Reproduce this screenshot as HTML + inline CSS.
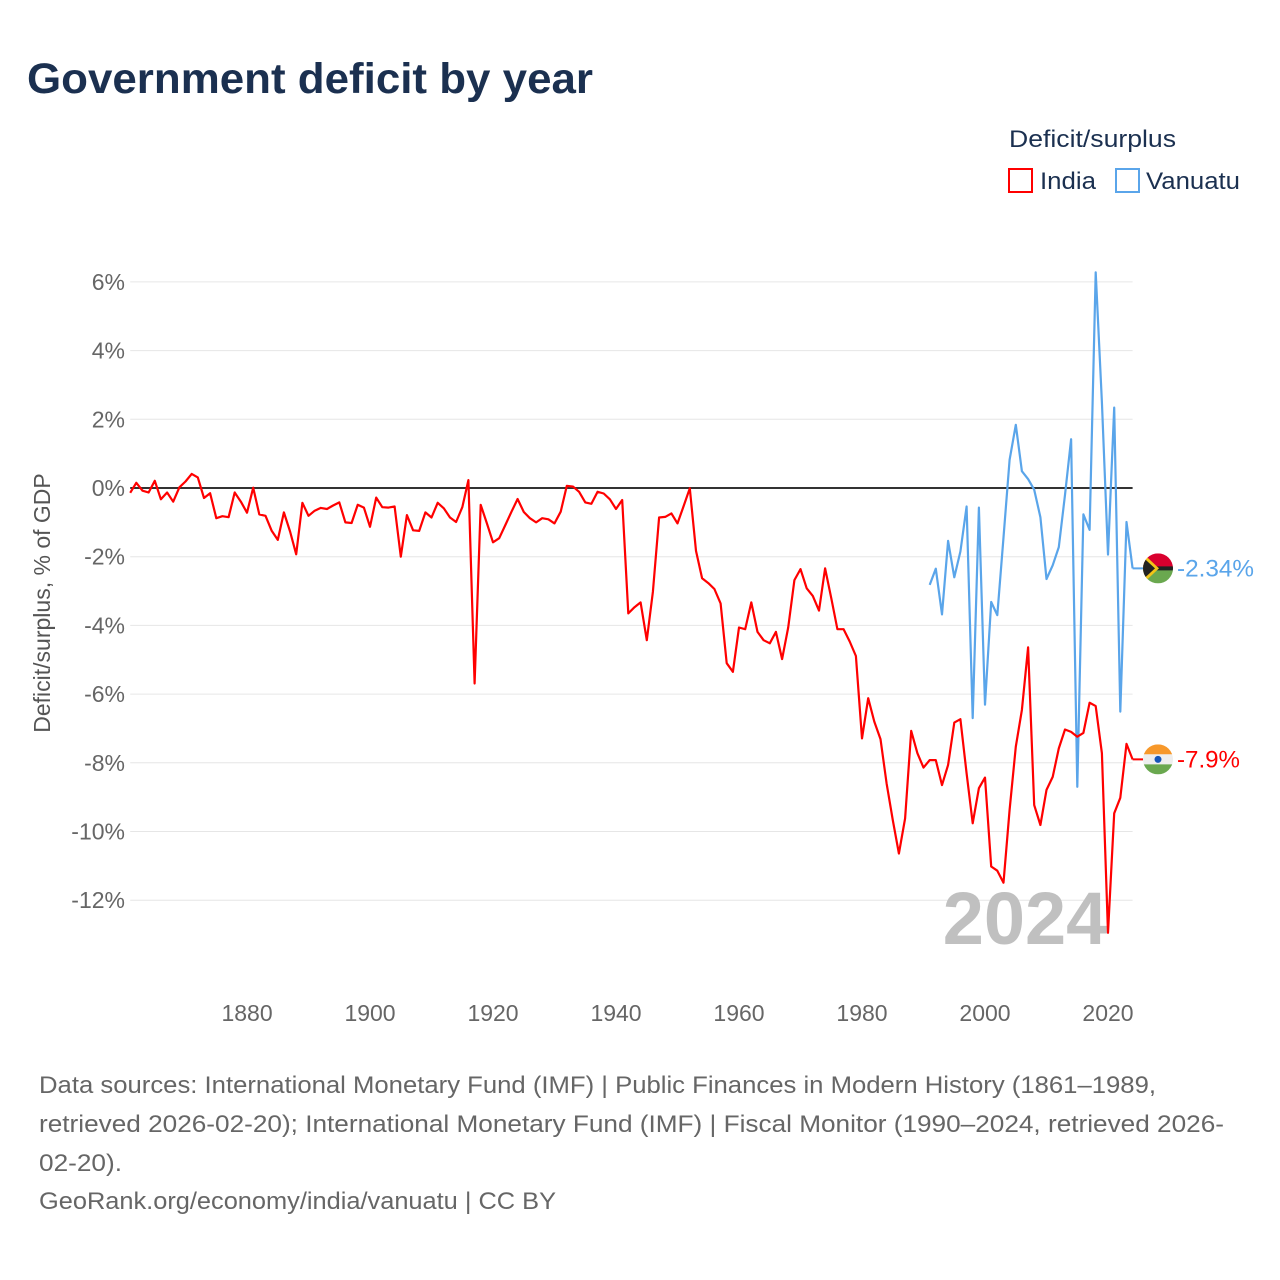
<!DOCTYPE html>
<html><head><meta charset="utf-8"><style>
body{margin:0;background:#fff;width:1280px;height:1280px;overflow:hidden;font-family:"Liberation Sans",sans-serif}
svg{position:absolute;left:0;top:0}
</style></head><body>
<svg id="chart" width="1280" height="1280">
<text x="27" y="93" font-size="43" font-weight="bold" fill="#1b3050" textLength="566" lengthAdjust="spacingAndGlyphs">Government deficit by year</text>
<text x="1009" y="147" font-size="24" fill="#1b3050" textLength="167" lengthAdjust="spacingAndGlyphs">Deficit/surplus</text>
<g><rect x="1009" y="169" width="23" height="23" fill="#fff" stroke="#f00" stroke-width="2"/><text x="1040" y="189" font-size="24" fill="#1b3050" textLength="56" lengthAdjust="spacingAndGlyphs">India</text></g>
<g><rect x="1116" y="169" width="23" height="23" fill="#fff" stroke="#5aa5ea" stroke-width="2"/><text x="1146" y="189" font-size="24" fill="#1b3050" textLength="94" lengthAdjust="spacingAndGlyphs">Vanuatu</text></g>
<g id="grid"></g>
<text x="1025" y="944" font-size="74" font-weight="bold" fill="#c0c0c0" text-anchor="middle">2024</text>
<g id="series"></g>
<text transform="translate(50,603) rotate(-90)" font-size="23" fill="#555" text-anchor="middle">Deficit/surplus, % of GDP</text>
<g font-size="24" fill="#666">
<text x="39" y="1093" textLength="1117" lengthAdjust="spacingAndGlyphs">Data sources: International Monetary Fund (IMF) | Public Finances in Modern History (1861–1989,</text>
<text x="39" y="1132" textLength="1185" lengthAdjust="spacingAndGlyphs">retrieved 2026-02-20); International Monetary Fund (IMF) | Fiscal Monitor (1990–2024, retrieved 2026-</text>
<text x="39" y="1171" textLength="83" lengthAdjust="spacingAndGlyphs">02-20).</text>
<text x="39" y="1209" textLength="517" lengthAdjust="spacingAndGlyphs">GeoRank.org/economy/india/vanuatu | CC BY</text>
</g>
</svg>
<script>
const yTicks=[6,4,2,0,-2,-4,-6,-8,-10,-12];
const xTicks=[1880,1900,1920,1940,1960,1980,2000,2020];
const indiaStart=1861;
const indiaValues=[-0.14,0.15,-0.08,-0.13,0.21,-0.33,-0.13,-0.40,0.02,0.19,0.41,0.31,-0.29,-0.15,-0.88,-0.82,-0.85,-0.13,-0.40,-0.72,0.01,-0.77,-0.81,-1.24,-1.51,-0.71,-1.27,-1.93,-0.43,-0.81,-0.66,-0.58,-0.61,-0.51,-0.42,-1.00,-1.02,-0.49,-0.57,-1.13,-0.28,-0.56,-0.57,-0.54,-2.0,-0.79,-1.23,-1.25,-0.71,-0.86,-0.43,-0.59,-0.86,-0.99,-0.56,0.23,
-5.69,-0.49,-1.03,-1.58,-1.46,-1.08,-0.69,-0.32,-0.70,-0.88,-1.0,-0.88,-0.91,-1.03,-0.69,0.06,0.04,-0.11,-0.42,-0.46,-0.11,-0.16,-0.33,-0.61,-0.35,-3.65,-3.47,-3.33,-4.43,-3.02,-0.86,-0.84,-0.74,-1.03,-0.52,-0.01,-1.83,-2.63,-2.77,-2.94,-3.36,-5.1,-5.35,
-4.06,-4.11,-3.33,-4.19,-4.43,-4.52,-4.19,-4.98,-4.06,-2.68,-2.36,-2.92,-3.14,-3.57,-2.34,-3.21,-4.11,-4.11,-4.47,-4.89,-7.29,-6.12,-6.80,-7.31,-8.6,-9.67,-10.64,-9.62,-7.07,-7.72,-8.14,-7.92,-7.92,-8.65,-8.06,-6.83,-6.73,-8.31,-9.76,-8.74,-8.43,-11.02,-11.14,-11.49,-9.37,-7.53,-6.46,-4.64,-9.23,-9.81,-8.79,-8.41,-7.58,-7.03,-7.1,-7.24,-7.13,-6.25,-6.35,-7.72,-12.95,-9.47,-9.02,-7.45,-7.9];
const vanuatuStart=1991;
const vanuatuValues=[-2.82,-2.35,-3.68,-1.54,-2.60,-1.85,-0.54,-6.70,-0.57,-6.31,-3.32,-3.70,-1.44,0.82,1.84,0.49,0.26,-0.05,-0.85,-2.65,-2.25,-1.72,-0.2,1.42,-8.70,-0.77,-1.22,6.28,2.5,-1.94,2.34,-6.51,-0.99,-2.34];
const NS='http://www.w3.org/2000/svg';
const X0=130.2,X1=1132.6,Y0=488,PER=34.35;
const xs=y=>X0+(y-1861)*(X1-X0)/(2024-1861);
const ys=v=>Y0-v*PER;
function mk(tag,attrs,parent){const e=document.createElementNS(NS,tag);for(const k in attrs)e.setAttribute(k,attrs[k]);parent.appendChild(e);return e;}
const grid=document.getElementById('grid');
yTicks.forEach(t=>{
 if(t!==0){const l=mk('line',{x1:X0,x2:X1,y1:ys(t),y2:ys(t),stroke:'#e6e6e6','stroke-width':1},grid);
 
 }
 const tx=mk('text',{x:125,y:ys(t)+8,'text-anchor':'end','font-size':23,fill:'#666'},grid);
 tx.textContent=t+'%';
 
 
});
xTicks.forEach(t=>{
 const tx=mk('text',{x:xs(t),y:1021,'text-anchor':'middle','font-size':23,fill:'#666'},grid);
 tx.textContent=t;
 
 
});
const zl=mk('line',{x1:X0,x2:X1,y1:Y0,y2:Y0,stroke:'#333','stroke-width':2},grid);


const ser=document.getElementById('series');
function line(start,vals){return vals.map((v,i)=>(i?'L':'M')+xs(start+i).toFixed(1)+','+ys(v).toFixed(1)).join('');}
const pv=mk('path',{d:line(vanuatuStart,vanuatuValues),fill:'none',stroke:'#5aa5ea','stroke-width':2.2,'stroke-linejoin':'round'},ser);


const pi=mk('path',{d:line(indiaStart,indiaValues),fill:'none',stroke:'#f00','stroke-width':2.2,'stroke-linejoin':'round'},ser);


function flag(v,kind,label,color,len){
 const cy=ys(v),cx=1158,r=15;
 const g=mk('g',{},ser);
 
 
 mk('line',{x1:X1,x2:cx-r,y1:cy,y2:cy,stroke:color,'stroke-width':2},g);
 const cid='c'+kind;
 const cp=mk('clipPath',{id:cid},g);mk('circle',{cx,cy,r},cp);
 const f=mk('g',{'clip-path':'url(#'+cid+')'},g);
 if(kind==='india'){
  mk('rect',{x:cx-r,y:cy-r,width:2*r,height:10,fill:'#f7982a'},f);
  mk('rect',{x:cx-r,y:cy-5,width:2*r,height:10,fill:'#eee'},f);
  mk('rect',{x:cx-r,y:cy+5,width:2*r,height:10,fill:'#6aa84f'},f);
  mk('circle',{cx,cy,r:3.5,fill:'#1655b8'},f);
 }else{
  mk('rect',{x:cx-r,y:cy-r,width:2*r,height:r,fill:'#d9002e'},f);
  mk('rect',{x:cx-r,y:cy,width:2*r,height:r,fill:'#6aa84f'},f);
  mk('rect',{x:cx-r,y:cy-2,width:2*r,height:4,fill:'#222'},f);
  mk('polygon',{points:(cx-r)+','+(cy-r)+' '+(cx+1)+','+cy+' '+(cx-r)+','+(cy+r),fill:'#f2c418'},f);
  mk('polygon',{points:(cx-r)+','+(cy-r+4)+' '+(cx-3)+','+cy+' '+(cx-r)+','+(cy+r-4),fill:'#222'},f);
 }
 const t=mk('text',{x:1177,y:cy+8,'font-size':24,fill:color,textLength:len,lengthAdjust:'spacingAndGlyphs'},g);t.textContent=label;
}
flag(vanuatuValues[vanuatuValues.length-1],'vanuatu','-2.34%','#5aa5ea',77);
flag(indiaValues[indiaValues.length-1],'india','-7.9%','#f00',63);
</script>
</body></html>
